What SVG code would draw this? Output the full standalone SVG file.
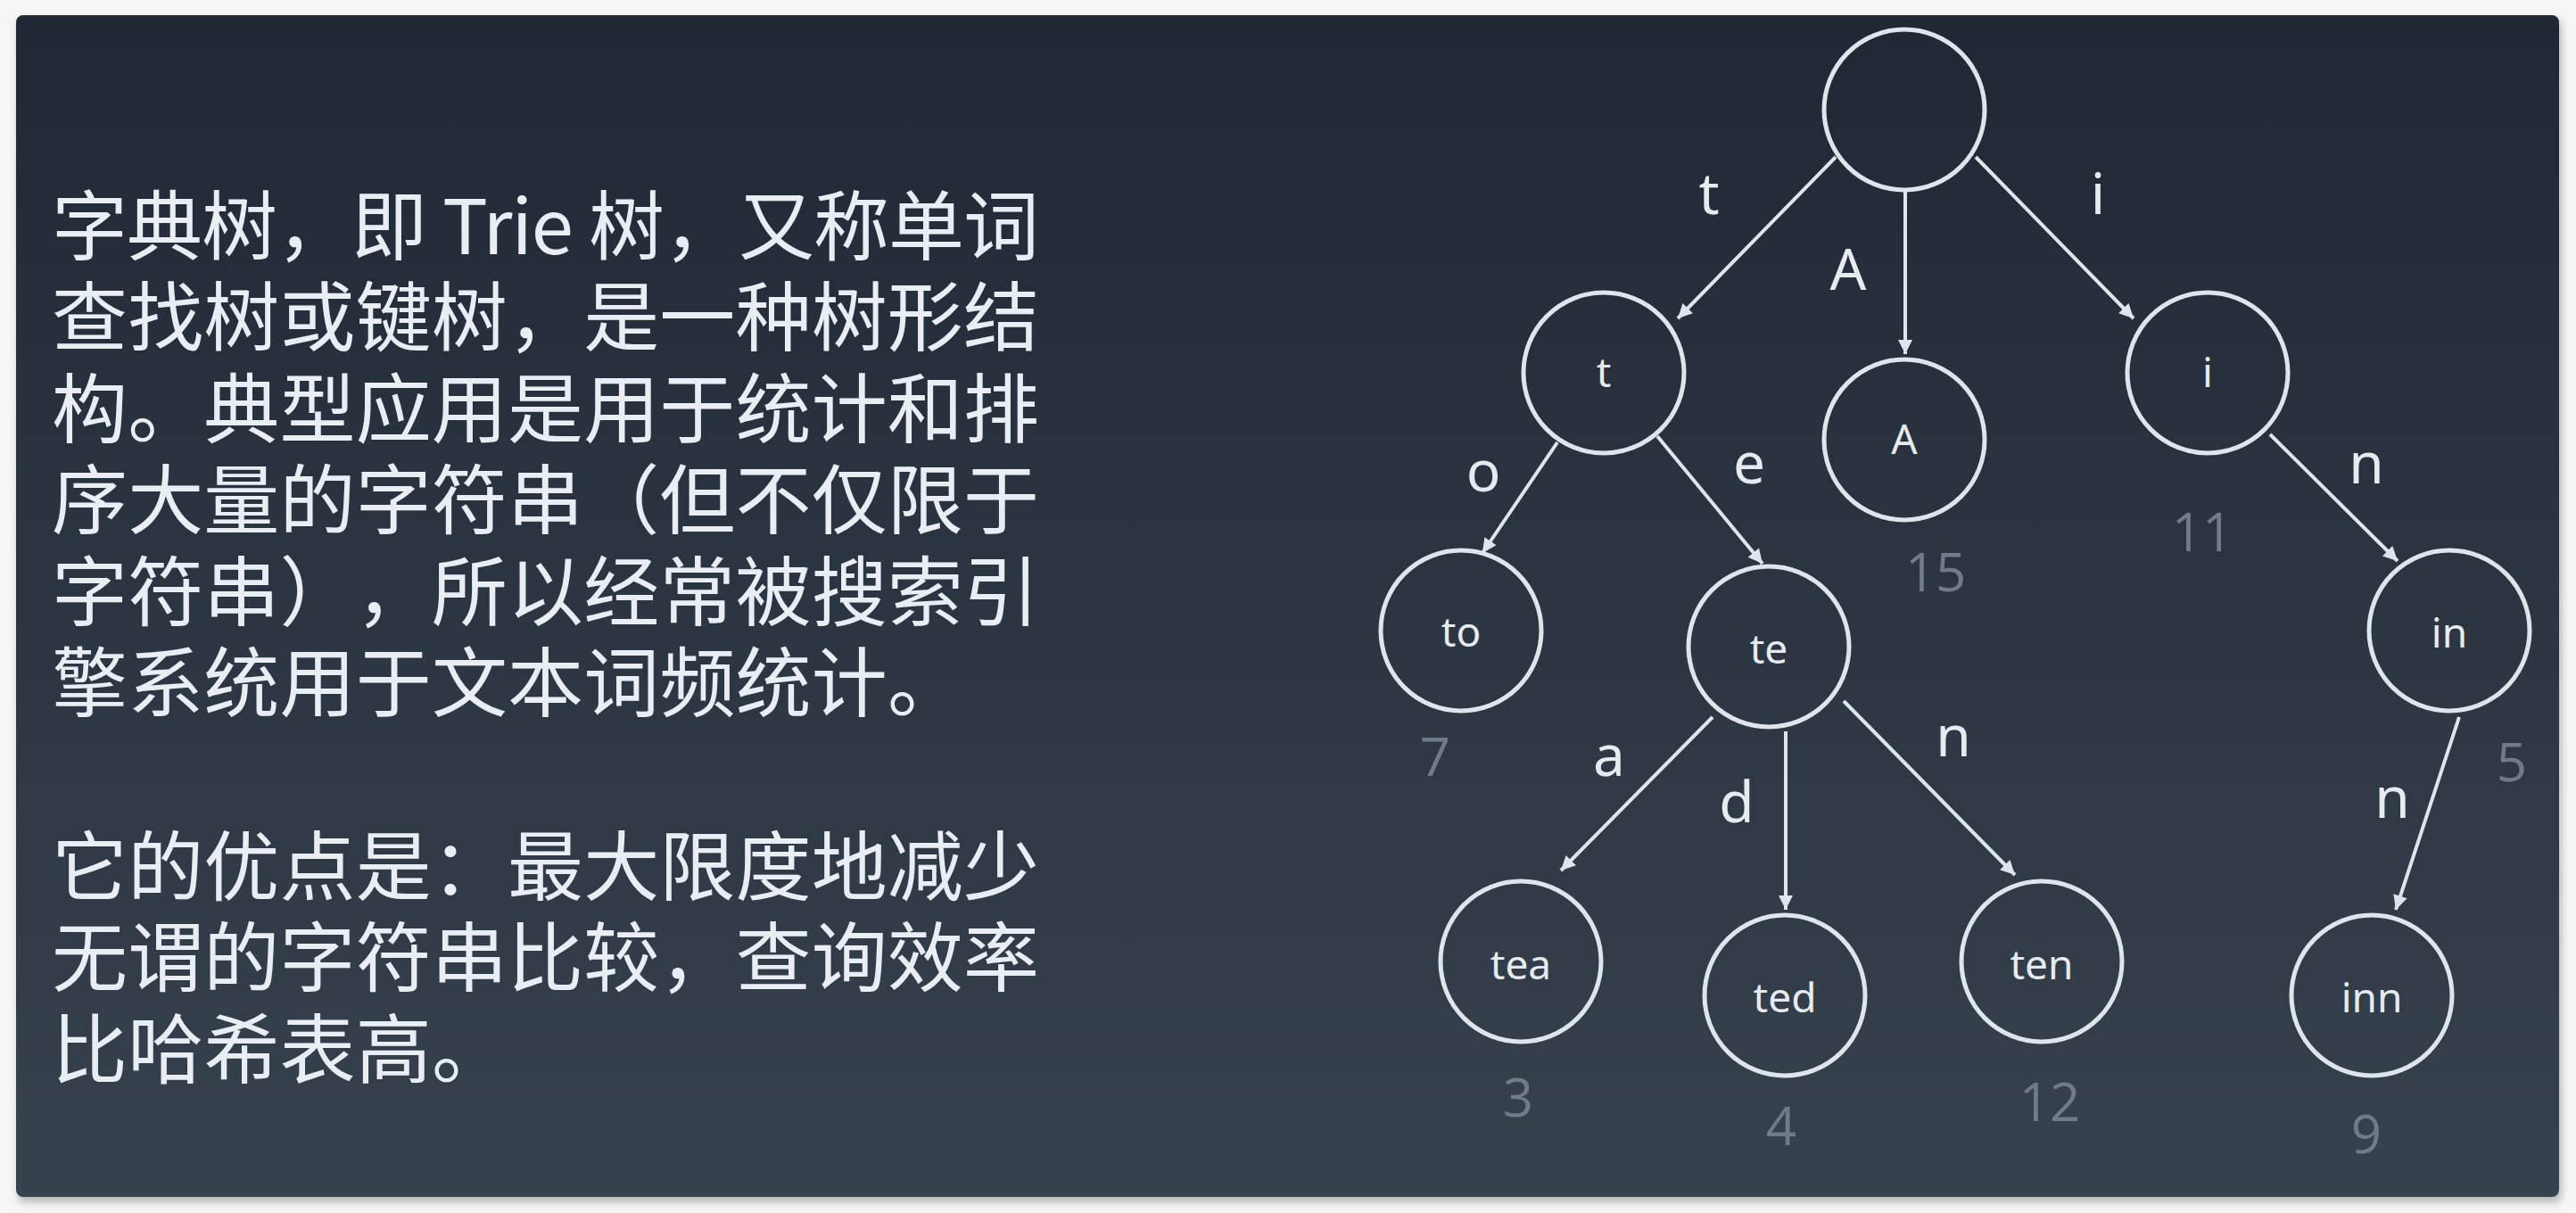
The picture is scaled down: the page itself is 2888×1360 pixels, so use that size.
<svg xmlns="http://www.w3.org/2000/svg" width="2888" height="1360" viewBox="0 0 2888 1360">
<defs>
<linearGradient id="bg" x1="0" y1="0" x2="0" y2="1">
<stop offset="0" stop-color="#212835"/>
<stop offset="1" stop-color="#37424f"/>
</linearGradient>
<filter id="sh" x="-5%" y="-5%" width="110%" height="110%">
<feGaussianBlur stdDeviation="4"/>
</filter>
<marker id="arr" viewBox="0 0 10 10" refX="10" refY="5" markerWidth="18" markerHeight="16" markerUnits="userSpaceOnUse" orient="auto">
<path d="M0,0 L10,5 L0,10 z" fill="#dfe5ec"/>
</marker>
<style>
.body{font-family:"Noto Sans CJK SC","Noto Sans",sans-serif;font-size:85px;fill:#e9eef4;text-spacing-trim:space-all}
.node circle{fill:none;stroke:#dfe5ec;stroke-width:5}
.node text{font-family:"Noto Sans",sans-serif;font-size:46px;fill:#e6ebf0;text-anchor:middle}
.edges line{stroke:#dfe5ec;stroke-width:4;marker-end:url(#arr)}
.el{font-family:"Noto Sans",sans-serif;font-size:64px;fill:#e6ebf0;text-anchor:middle}
.num{font-family:"Open Sans",sans-serif;font-size:60px;fill:#6f7b89;text-anchor:middle}
</style>
</defs>
<rect width="2888" height="1360" fill="#f6f6f6"/>
<rect x="20" y="22" width="2852" height="1326" rx="8" fill="#b8b8b8" filter="url(#sh)"/>
<rect x="18" y="17" width="2851" height="1325" rx="8" fill="url(#bg)"/>

<g id="description">
<text class="body" x="58" y="285" textLength="1107" lengthAdjust="spacing">字典树，即 Trie 树，又称单词</text>
<text class="body" x="58" y="387" textLength="1107" lengthAdjust="spacing">查找树或键树，是一种树形结</text>
<text class="body" x="58" y="490" textLength="1107" lengthAdjust="spacing">构。典型应用是用于统计和排</text>
<text class="body" x="58" y="592" textLength="1107" lengthAdjust="spacing">序大量的字符串（但不仅限于</text>
<text class="body" x="58" y="695" textLength="1107" lengthAdjust="spacing">字符串），所以经常被搜索引</text>
<text class="body" x="58" y="797" textLength="1022" lengthAdjust="spacing">擎系统用于文本词频统计。</text>
<text class="body" x="58" y="1003" textLength="1107" lengthAdjust="spacing">它的优点是：最大限度地减少</text>
<text class="body" x="58" y="1105" textLength="1107" lengthAdjust="spacing">无谓的字符串比较，查询效率</text>
<text class="body" x="58" y="1208" textLength="511" lengthAdjust="spacing">比哈希表高。</text>
</g>

<g id="edges" class="edges">
<line x1="2058" y1="176" x2="1881" y2="357"/>
<line x1="2136" y1="214" x2="2136" y2="397"/>
<line x1="2215" y1="176" x2="2392" y2="357"/>
<line x1="1746" y1="496" x2="1662" y2="620"/>
<line x1="1858" y1="489" x2="1976" y2="632"/>
<line x1="2545" y1="487" x2="2688" y2="629"/>
<line x1="1920" y1="804" x2="1750" y2="976"/>
<line x1="2002" y1="820" x2="2002" y2="1020"/>
<line x1="2067" y1="786" x2="2259" y2="981"/>
<line x1="2757" y1="804" x2="2686" y2="1020"/>
</g>

<g id="edge-labels">
<text class="el" x="1916" y="240">t</text>
<text class="el" x="2072" y="325">A</text>
<text class="el" x="2352" y="240">i</text>
<text class="el" x="1663" y="551">o</text>
<text class="el" x="1961" y="542">e</text>
<text class="el" x="2653" y="542">n</text>
<text class="el" x="1804" y="870">a</text>
<text class="el" x="1947" y="922">d</text>
<text class="el" x="2190" y="848">n</text>
<text class="el" x="2682" y="917">n</text>
</g>

<g id="node-root" class="node"><circle cx="2135" cy="123" r="90"/></g>
<g id="node-t" class="node"><circle cx="1798" cy="418" r="90"/><text x="1798" y="434">t</text></g>
<g id="node-A" class="node"><circle cx="2135" cy="493" r="90"/><text x="2135" y="509">A</text></g>
<g id="node-i" class="node"><circle cx="2475" cy="418" r="90"/><text x="2475" y="434">i</text></g>
<g id="node-to" class="node"><circle cx="1638" cy="707" r="90"/><text x="1638" y="725">to</text></g>
<g id="node-te" class="node"><circle cx="1983" cy="725" r="90"/><text x="1983" y="744">te</text></g>
<g id="node-in" class="node"><circle cx="2746" cy="707" r="90"/><text x="2746" y="726">in</text></g>
<g id="node-tea" class="node"><circle cx="1705" cy="1078" r="90"/><text x="1705" y="1098">tea</text></g>
<g id="node-ted" class="node"><circle cx="2001" cy="1116" r="90"/><text x="2001" y="1135">ted</text></g>
<g id="node-ten" class="node"><circle cx="2289" cy="1078" r="90"/><text x="2289" y="1098">ten</text></g>
<g id="node-inn" class="node"><circle cx="2659" cy="1116" r="90"/><text x="2659" y="1135">inn</text></g>

<g id="counts">
<text class="num" x="2170" y="663">15</text>
<text class="num" x="2469" y="618">11</text>
<text class="num" x="1609" y="870">7</text>
<text class="num" x="2816" y="876">5</text>
<text class="num" x="1702" y="1252">3</text>
<text class="num" x="1997" y="1284">4</text>
<text class="num" x="2298" y="1257">12</text>
<text class="num" x="2653" y="1293">9</text>
</g>
</svg>
